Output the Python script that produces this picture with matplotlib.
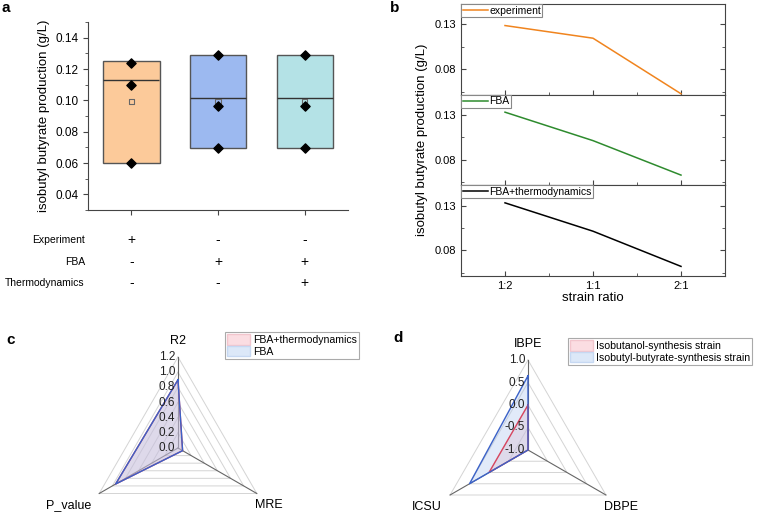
import numpy as np
import matplotlib
matplotlib.use('Agg')
import matplotlib.pyplot as plt
from matplotlib.patches import Patch
import matplotlib.transforms as mtransforms

plt.rcParams['font.family'] = ['Liberation Sans', 'DejaVu Sans']

# ---- panel a data ----
a_groups = ['Experiment', 'FBA', 'FBA+thermodynamics']
a_box_low = [0.060, 0.0694, 0.0694]
a_box_high = [0.1248, 0.1288, 0.1288]
a_median = [0.113, 0.1013, 0.1013]
a_mean = [0.0992, 0.0995, 0.0995]
a_points = [[0.124, 0.110, 0.060], [0.1288, 0.0965, 0.0693], [0.1288, 0.0965, 0.0693]]
a_colors = ['#fcca9a', '#9cb9f0', '#b4e2e6']
a_rows = ['Experiment', 'FBA', 'Thermodynamics']
a_signs = [['+', '-', '-'], ['-', '+', '+'], ['-', '-', '+']]

# ---- panel b data ----
b_ratio = ['1:2', '1:1', '2:1']
b_experiment = [0.1285, 0.1144, 0.0525]
b_fba = [0.133, 0.1013, 0.0629]
b_fba_thermo = [0.133, 0.1014, 0.0622]

# ---- panel c data ----
c_axes = ['R2', 'MRE', 'P_value']
c_fba_thermo = [0.90, 0.07, 0.95]
c_fba = [0.90, 0.07, 0.95]
c_rticks = [0.0, 0.2, 0.4, 0.6, 0.8, 1.0, 1.2]

# ---- panel d data ----
d_axes = ['IBPE', 'DBPE', 'ICSU']
d_isobutanol = [0.0, -1.0, 0.0]
d_isobutyl = [0.65, -1.0, 0.5]
d_rticks = [-1.0, -0.5, 0.0, 0.5, 1.0]

W, H = 760, 513
fig = plt.figure(figsize=(W / 100, H / 100), dpi=100)


def fx(px):
    return px / W


def fy(py):
    return 1 - py / H


# ================= panel a =================
ax = fig.add_axes([fx(88), fy(210), fx(260), 188 / H])
pos = np.arange(len(a_groups))
bw = 0.65
ax.bar(pos, np.array(a_box_high) - np.array(a_box_low), bottom=a_box_low, width=bw,
       color=a_colors, edgecolor='#555555', linewidth=1.0, zorder=2)
ax.hlines(a_median, pos - bw / 2, pos + bw / 2, color='#333333', linewidth=1.0, zorder=3)
ax.scatter(pos, a_mean, marker='s', s=14, facecolor='none', edgecolor='#666666',
           linewidth=0.8, zorder=3)
for i, pts in enumerate(a_points):
    ax.scatter([pos[i]] * len(pts), pts, marker='D', s=22, color='black', zorder=4)
ax.set_xlim(-0.5, 2.5)
ax.set_ylim(0.03, 0.15)
ax.set_yticks([0.04, 0.06, 0.08, 0.10, 0.12, 0.14])
ax.set_yticks(np.arange(0.03, 0.151, 0.01), minor=True)
ax.set_yticklabels(['0.04', '0.06', '0.08', '0.10', '0.12', '0.14'])
ax.set_xticks(pos)
ax.set_xticklabels([])
for s in ['top', 'right']:
    ax.spines[s].set_visible(False)
for s in ['left', 'bottom']:
    ax.spines[s].set_color('#444444')
ax.tick_params(direction='out', length=3.5, color='#444444', labelsize=8.5)
ax.tick_params(which='minor', direction='out', length=2, color='#444444')
ax.set_ylabel('isobutyl butyrate production (g/L)', fontsize=9.5, labelpad=4)
trans = mtransforms.blended_transform_factory(ax.transData, ax.transAxes)
row_y = [(210 - 240) / 188, (210 - 262) / 188, (210 - 283) / 188]
for r, name in enumerate(a_rows):
    ax.text(-0.012, row_y[r], name, transform=ax.transAxes, ha='right', va='center', fontsize=7.5)
    for i in range(len(pos)):
        ax.text(pos[i], row_y[r], a_signs[r][i], transform=trans, ha='center', va='center',
                fontsize=10)
fig.text(fx(6), fy(8), 'a', fontsize=11, fontweight='bold', ha='center', va='center')

# ================= panel b =================
b_series = [(b_experiment, 'experiment', '#f0841e'),
            (b_fba, 'FBA', '#2e8b2e'),
            (b_fba_thermo, 'FBA+thermodynamics', 'black')]
top_px, bot_px = 4, 276
ph = (bot_px - top_px) / 3
xb = np.arange(len(b_ratio))
for k, (vals, lab, col) in enumerate(b_series):
    y1 = top_px + ph * (k + 1)
    bx = fig.add_axes([fx(461), fy(y1), fx(264), ph / H])
    bx.plot(xb, vals, color=col, linewidth=1.1, label=lab, clip_on=False)
    bx.set_xlim(-0.5, 2.5)
    bx.set_ylim(0.0515, 0.1525)
    bx.set_yticks([0.08, 0.13])
    bx.set_yticklabels(['0.08', '0.13'])
    bx.set_yticks([0.055, 0.105], minor=True)
    bx.set_xticks(xb)
    bx.set_xticks([0.5, 1.5], minor=True)
    if k < 2:
        bx.set_xticklabels([])
    else:
        bx.set_xticklabels(b_ratio)
    bx.tick_params(which='both', direction='in', right=True, color='#444444', labelsize=8)
    bx.tick_params(which='major', length=3.5)
    bx.tick_params(which='minor', length=2)
    for s in bx.spines.values():
        s.set_color('#444444')
    leg = bx.legend(loc='upper left', borderaxespad=0, fancybox=False, framealpha=1,
                    edgecolor='#888888', fontsize=7.5, handlelength=2.4, handletextpad=0.15,
                    borderpad=0.15)
    leg.get_frame().set_linewidth(0.8)
fig.text(fx(422), fy(140), 'isobutyl butyrate production (g/L)', rotation=90,
         ha='center', va='center', fontsize=9.5)
fig.text(fx(593), fy(298), 'strain ratio', ha='center', va='center', fontsize=9.5)
fig.text(fx(395), fy(8), 'b', fontsize=11, fontweight='bold', ha='center', va='center')


# ================= radar helper =================
ang = np.deg2rad([90, -30, 210])


def radar(rax, names, series, rticks, base, lab_fmt):
    rmax = rticks[-1] - base
    for t in rticks[1:]:
        r = t - base
        rax.plot(np.append(r * np.cos(ang), r * np.cos(ang[0])),
                 np.append(r * np.sin(ang), r * np.sin(ang[0])),
                 color='#d4d4d4', linewidth=0.7, zorder=1)
    for a in ang:
        rax.plot([0, rmax * np.cos(a)], [0, rmax * np.sin(a)], color='#666666',
                 linewidth=0.8, zorder=2)
    for vals, fc, lc in series:
        r = np.array(vals) - base
        xs, ys = r * np.cos(ang), r * np.sin(ang)
        rax.fill(xs, ys, color=fc, alpha=0.35, linewidth=0, zorder=3)
        rax.plot(np.append(xs, xs[0]), np.append(ys, ys[0]), color=lc, linewidth=1.0, zorder=4)
    for t in rticks:
        rax.text(-0.03 * rmax, t - base, lab_fmt % t, ha='right', va='center', fontsize=8.5,
                 color='#222222', zorder=5)
    offs = [(0, 10, 'center', 'bottom'), (-2, -6, 'left', 'top'), (-8, -6, 'right', 'top')]
    for name, a, (ox, oy, ha, va) in zip(names, ang, offs):
        rax.annotate(name, (rmax * np.cos(a), rmax * np.sin(a)), xytext=(ox, oy),
                     textcoords='offset pixels', ha=ha, va=va, fontsize=9)
    rax.axis('off')


leg_kw = dict(loc='upper left', bbox_transform=fig.transFigure, borderaxespad=0,
              fancybox=False, framealpha=1, edgecolor='#aaaaaa', fontsize=7.6,
              handlelength=2.2, handleheight=1.15, handletextpad=0.25, borderpad=0.2,
              labelspacing=0.08)

# ================= panel c =================
cx = fig.add_axes([fx(40), 0, fx(280), 183 / H])
sc = 91 / 1.2
cx.set_xlim((40 - 178) / sc, (320 - 178) / sc)
cx.set_ylim((448 - 513) / sc, (448 - 330) / sc)
radar(cx, c_axes, [(c_fba_thermo, '#f4b6c2', '#d9455f'), (c_fba, '#a9c4ee', '#3b62c8')],
      c_rticks, 0.0, '%.1f')
leg = cx.legend(handles=[Patch(facecolor='#fbdde2', edgecolor='#f2c5cd', label='FBA+thermodynamics'),
                         Patch(facecolor='#dce8f8', edgecolor='#c6d8f2', label='FBA')],
                bbox_to_anchor=(fx(225), fy(332)), **leg_kw)
leg.get_frame().set_linewidth(0.8)
fig.text(fx(11), fy(340), 'c', fontsize=11, fontweight='bold', ha='center', va='center')

# ================= panel d =================
dx = fig.add_axes([fx(400), 0, fx(300), 183 / H])
sd = 45.0
dx.set_xlim((400 - 528) / sd, (700 - 528) / sd)
dx.set_ylim((450 - 513) / sd, (450 - 330) / sd)
radar(dx, d_axes, [(d_isobutanol, '#f4b6c2', '#d9455f'), (d_isobutyl, '#a9c4ee', '#3b62c8')],
      d_rticks, -1.0, '%.1f')
leg = dx.legend(handles=[Patch(facecolor='#fbdde2', edgecolor='#f2c5cd', label='Isobutanol-synthesis strain'),
                         Patch(facecolor='#dce8f8', edgecolor='#c6d8f2',
                               label='Isobutyl-butyrate-synthesis strain')],
                bbox_to_anchor=(fx(568), fy(338)), **leg_kw)
leg.get_frame().set_linewidth(0.8)
fig.text(fx(398), fy(338), 'd', fontsize=11, fontweight='bold', ha='center', va='center')

fig.savefig('out.png', dpi=100)
